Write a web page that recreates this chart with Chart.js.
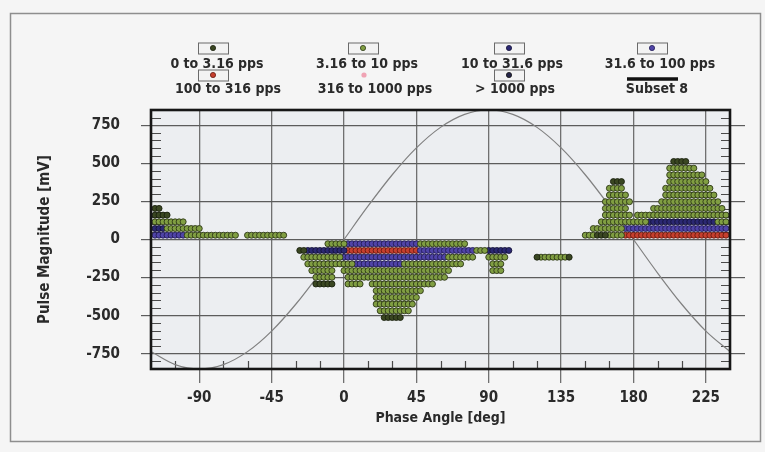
<!DOCTYPE html>
<html lang="en">
<head>
<meta charset="UTF-8">
<title>Pulse Magnitude vs Phase Angle</title>
<script src="https://cdn.jsdelivr.net/npm/chart.js@4.4.1/dist/chart.umd.min.js"></script>
<style>
  html, body { margin: 0; padding: 0; background: #f5f5f5; }
  #wrap { width: 765px; height: 452px; }
</style>
</head>
<body>
<div id="wrap"><canvas id="prpd" width="765" height="452"></canvas></div>
<script>
// axis ticks
const xTicks = [-90, -45, 0, 45, 90, 135, 180, 225];
const yTicks = [-750, -500, -250, 0, 250, 500, 750];
const xMinor = [-105, -75, -60, -30, -15, 15, 30, 60, 75, 105, 120, 150, 165, 195, 210];
const yMinor = [-800, -700, -650, -600, -550, -450, -400, -350, -300, -200, -150, -100, -50,
                50, 100, 150, 200, 300, 350, 400, 450, 550, 600, 650, 700, 800];

const seriesNames = ['0 to 3.16 pps', '3.16 to 10 pps', '10 to 31.6 pps', '31.6 to 100 pps',
                     '100 to 316 pps', '316 to 1000 pps', '> 1000 pps', 'Subset 8'];

// pulse counts, one row per magnitude bin: [mV, [phase deg, ...]]
const rate0 = [
  [204, [-117.5, -115]],
  [160, [-117.5, -115, -112.5, -110]],
  [-72, [-27.5, -25]],
  [-116, [120, 140]],
  [-292, [-17.5, -15, -12.5, -10, -7.5]],
  [-512, [25, 27.5, 30, 32.5, 35]],
  [28, [157.5, 160, 162.5]],
  [380, [167.5, 170, 172.5]],
  [512, [205, 207.5, 210, 212.5]]
];

const rate1 = [
  [116, [-117.5, -115, -112.5, -110, -107.5, -105, -102.5, -100]],
  [72, [-110, -107.5, -105, -102.5, -100, -97.5, -95, -92.5, -90]],
  [28, [-97.5, -95, -92.5, -90, -87.5, -85, -82.5, -80, -77.5, -75, -72.5, -70, -67.5,
        -60, -57.5, -55, -52.5, -50, -47.5, -45, -42.5, -40, -37.5,
        150, 152.5, 155, 165, 167.5, 170, 172.5]],
  [-28, [-10, -7.5, -5, -2.5, 0, 47.5, 50, 52.5, 55, 57.5, 60, 62.5, 65, 67.5, 70, 72.5, 75]],
  [-72, [82.5, 85, 87.5]],
  [-116, [-25, -22.5, -20, -17.5, -15, -12.5, -10, -7.5, -5, -2.5,
          65, 67.5, 70, 72.5, 75, 77.5, 80, 90, 92.5, 95, 97.5, 100,
          122.5, 125, 127.5, 130, 132.5, 135, 137.5]],
  [-160, [-22.5, -20, -17.5, -15, -12.5, -10, -7.5, -5, -2.5, 0, 2.5, 5,
          37.5, 40, 42.5, 45, 47.5, 50, 52.5, 55, 57.5, 60, 62.5, 65, 67.5, 70, 72.5,
          92.5, 95, 97.5]],
  [-204, [-20, -17.5, -15, -12.5, -10, -7.5,
          0, 2.5, 5, 7.5, 10, 12.5, 15, 17.5, 20, 22.5, 25, 27.5, 30, 32.5, 35, 37.5, 40,
          42.5, 45, 47.5, 50, 52.5, 55, 57.5, 60, 62.5, 65, 92.5, 95, 97.5]],
  [-248, [-17.5, -15, -12.5, -10, -7.5,
          2.5, 5, 7.5, 10, 12.5, 15, 17.5, 20, 22.5, 25, 27.5, 30, 32.5, 35, 37.5, 40,
          42.5, 45, 47.5, 50, 52.5, 55, 57.5, 60, 62.5]],
  [-292, [2.5, 5, 7.5, 10, 17.5, 20, 22.5, 25, 27.5, 30, 32.5, 35, 37.5, 40, 42.5, 45,
          47.5, 50, 52.5, 55]],
  [-336, [20, 22.5, 25, 27.5, 30, 32.5, 35, 37.5, 40, 42.5, 45, 47.5]],
  [-380, [20, 22.5, 25, 27.5, 30, 32.5, 35, 37.5, 40, 42.5, 45]],
  [-424, [20, 22.5, 25, 27.5, 30, 32.5, 35, 37.5, 40, 42.5]],
  [-468, [22.5, 25, 27.5, 30, 32.5, 35, 37.5, 40]],
  [72, [155, 157.5, 160, 162.5, 165, 167.5, 170, 172.5]],
  [116, [160, 162.5, 165, 167.5, 170, 172.5, 175, 177.5, 180, 182.5, 185, 187.5,
         232.5, 235, 237.5]],
  [160, [162.5, 165, 167.5, 170, 172.5, 175, 177.5,
         182.5, 185, 187.5, 190, 192.5, 195, 197.5, 200, 202.5, 205, 207.5, 210, 212.5,
         215, 217.5, 220, 222.5, 225, 227.5, 230, 232.5, 235, 237.5]],
  [204, [162.5, 165, 167.5, 170, 172.5, 175,
         192.5, 195, 197.5, 200, 202.5, 205, 207.5, 210, 212.5, 215, 217.5, 220, 222.5,
         225, 227.5, 230, 232.5, 235]],
  [248, [162.5, 165, 167.5, 170, 172.5, 175, 177.5,
         197.5, 200, 202.5, 205, 207.5, 210, 212.5, 215, 217.5, 220, 222.5, 225, 227.5,
         230, 232.5]],
  [292, [165, 167.5, 170, 172.5, 175, 200, 202.5, 205, 207.5, 210, 212.5, 215, 217.5,
         220, 222.5, 225, 227.5, 230]],
  [336, [165, 167.5, 170, 172.5, 200, 202.5, 205, 207.5, 210, 212.5, 215, 217.5, 220,
         222.5, 225, 227.5]],
  [380, [202.5, 205, 207.5, 210, 212.5, 215, 217.5, 220, 222.5, 225]],
  [424, [202.5, 205, 207.5, 210, 212.5, 215, 217.5, 220, 222.5]],
  [468, [202.5, 205, 207.5, 210, 212.5, 215, 217.5]]
];

const rate2 = [
  [72, [-117.5, -115, -112.5]],
  [-72, [-22.5, -20, -17.5, -15, -12.5, -10, -7.5, -5, -2.5, 0,
         90, 92.5, 95, 97.5, 100, 102.5]],
  [116, [190, 192.5, 195, 197.5, 200, 202.5, 205, 207.5, 210, 212.5, 215, 217.5, 220,
         222.5, 225, 227.5, 230]]
];

const rate3 = [
  [28, [-117.5, -115, -112.5, -110, -107.5, -105, -102.5, -100]],
  [-28, [2.5, 5, 7.5, 10, 12.5, 15, 17.5, 20, 22.5, 25, 27.5, 30, 32.5, 35, 37.5, 40,
         42.5, 45]],
  [-72, [47.5, 50, 52.5, 55, 57.5, 60, 62.5, 65, 67.5, 70, 72.5, 75, 77.5, 80]],
  [-116, [0, 2.5, 5, 7.5, 10, 12.5, 15, 17.5, 20, 22.5, 25, 27.5, 30, 32.5, 35, 37.5, 40,
          42.5, 45, 47.5, 50, 52.5, 55, 57.5, 60, 62.5]],
  [-160, [7.5, 10, 12.5, 15, 17.5, 20, 22.5, 25, 27.5, 30, 32.5, 35]],
  [72, [175, 177.5, 180, 182.5, 185, 187.5, 190, 192.5, 195, 197.5, 200, 202.5, 205,
        207.5, 210, 212.5, 215, 217.5, 220, 222.5, 225, 227.5, 230, 232.5, 235, 237.5]]
];

const rate4 = [
  [-72, [2.5, 5, 7.5, 10, 12.5, 15, 17.5, 20, 22.5, 25, 27.5, 30, 32.5, 35, 37.5, 40,
         42.5, 45]],
  [28, [175, 177.5, 180, 182.5, 185, 187.5, 190, 192.5, 195, 197.5, 200, 202.5, 205,
        207.5, 210, 212.5, 215, 217.5, 220, 222.5, 225, 227.5, 230, 232.5, 235, 237.5]]
];

const rate5 = [];
const rate6 = [];

// Subset 8: phase reference curve
const refPhase = [-120, -105, -90, -75, -60, -45, -30, -15, 0, 15, 30, 45, 60, 75, 90,
                  105, 120, 135, 150, 165, 180, 195, 210, 225, 240];
const refMag = [-736, -821, -850, -821, -736, -601, -425, -220, 0, 220, 425, 601, 736, 821, 850,
                821, 736, 601, 425, 220, 0, -220, -425, -601, -736];

const fillCols = ['#3a4722', '#809e42', '#2b2872', '#5044a8', '#c63f2e', '#f0a3b4', '#26264a'];
const edgeCols = ['#1a200e', '#2c3716', '#141238', '#221c55', '#641a10', '#b06070', '#111'];

const FONT = '"Liberation Sans Narrow", "DejaVu Sans Condensed", "Liberation Sans", sans-serif';

function rowsToPoints(rows) {
  const pts = [];
  rows.forEach(([mag, phases]) => phases.forEach(p => pts.push({ x: p, y: mag })));
  return pts;
}

const rates = [rate0, rate1, rate2, rate3, rate4, rate5, rate6];
const datasets = rates.map((rows, i) => ({
  label: seriesNames[i],
  data: rowsToPoints(rows),
  backgroundColor: fillCols[i],
  borderColor: edgeCols[i],
  pointRadius: 3,
  pointBorderWidth: 0.9,
  clip: 0,
  order: 1
}));
datasets.push({
  type: 'line',
  label: seriesNames[7],
  data: refPhase.map((p, i) => ({ x: p, y: refMag[i] })),
  borderColor: '#808080',
  borderWidth: 1.2,
  pointRadius: 0,
  cubicInterpolationMode: 'monotone',
  clip: 0,
  order: 10
});

// page background, outer frame and plot background
const backdrop = {
  id: 'backdrop',
  beforeDraw(chart) {
    const { ctx, chartArea: a } = chart;
    ctx.save();
    ctx.fillStyle = '#f5f5f5';
    ctx.fillRect(0, 0, chart.width, chart.height);
    ctx.strokeStyle = '#8e8e8e';
    ctx.lineWidth = 1.5;
    ctx.strokeRect(10.5, 13.5, 750, 428);
    ctx.fillStyle = '#eceef1';
    ctx.fillRect(a.left, a.top, a.right - a.left, a.bottom - a.top);
    ctx.restore();
  },
  beforeDatasetsDraw(chart) {
    const { ctx, chartArea: a, scales } = chart;
    ctx.save();
    ctx.strokeStyle = '#4a4a4a';
    ctx.lineWidth = 1.2;
    ctx.beginPath();
    xMinor.forEach(v => {
      const px = Math.round(scales.x.getPixelForValue(v)) + 0.5;
      ctx.moveTo(px, a.bottom);
      ctx.lineTo(px, a.bottom - 8);
    });
    yMinor.forEach(v => {
      const py = Math.round(scales.y.getPixelForValue(v)) + 0.5;
      ctx.moveTo(a.left, py);
      ctx.lineTo(a.left + 10, py);
      ctx.moveTo(a.right - 9, py);
      ctx.lineTo(a.right, py);
    });
    ctx.stroke();
    ctx.restore();
  },
  afterDatasetsDraw(chart) {
    const { ctx, chartArea: a } = chart;
    ctx.save();
    ctx.strokeStyle = '#161616';
    ctx.lineWidth = 2.6;
    ctx.strokeRect(a.left, a.top, a.right - a.left, a.bottom - a.top);
    ctx.restore();
  }
};

// legend: marker box above each label, four columns, two rows
const boxLegend = {
  id: 'boxLegend',
  afterDraw(chart) {
    const ctx = chart.ctx;
    const boxX = [[213, 363, 509, 652], [213, 364, 509, 652]];
    const textX = [[217, 367, 512, 660], [228, 375, 515, 657]];
    const boxY = [48, 75];
    const textY = [64, 89];
    ctx.save();
    chart.data.datasets.forEach((ds, i) => {
      const r = i < 4 ? 0 : 1;
      const c = i % 4;
      const bx = boxX[r][c];
      const by = boxY[r];
      if (ds.type === 'line') {
        ctx.strokeStyle = '#111';
        ctx.lineWidth = 3.5;
        ctx.beginPath();
        ctx.moveTo(bx - 25, by + 4);
        ctx.lineTo(bx + 26, by + 4);
        ctx.stroke();
      } else {
        if (i !== 5) {
          ctx.fillStyle = '#f3f3f3';
          ctx.fillRect(bx - 15, by - 5.5, 30, 11);
          ctx.strokeStyle = '#6a6a6a';
          ctx.lineWidth = 1;
          ctx.strokeRect(bx - 15 + 0.5, by - 5.5 + 0.5, 30, 11);
        }
        ctx.fillStyle = ds.backgroundColor;
        ctx.strokeStyle = ds.borderColor;
        ctx.lineWidth = 0.8;
        ctx.beginPath();
        ctx.arc(bx, by, 2.6, 0, Math.PI * 2);
        ctx.fill();
        if (i !== 5) ctx.stroke();
      }
      ctx.fillStyle = '#2a2a2a';
      ctx.font = 'bold 14px ' + FONT;
      ctx.textAlign = 'center';
      ctx.textBaseline = 'middle';
      ctx.fillText(ds.label, textX[r][c], textY[r]);
    });
    ctx.restore();
  }
};

const tickFont = { family: FONT, size: 15, weight: 'bold' };

new Chart(document.getElementById('prpd'), {
  type: 'scatter',
  data: { datasets: datasets },
  plugins: [backdrop, boxLegend],
  options: {
    responsive: false,
    animation: false,
    events: [],
    layout: { padding: { top: 110, right: 20, bottom: 0, left: 0 } },
    plugins: { legend: { display: false }, tooltip: { enabled: false } },
    scales: {
      x: {
        type: 'linear',
        min: -120,
        max: 240,
        afterBuildTicks: s => { s.ticks = xTicks.map(v => ({ value: v })); },
        afterFit: s => { s.height = 83; },
        border: { display: false },
        grid: { color: '#707070', lineWidth: 1.3, tickLength: 14 },
        ticks: { color: '#2a2a2a', font: tickFont, padding: 6, autoSkip: false, maxRotation: 0 },
        title: { display: true, text: 'Phase Angle [deg]', color: '#2a2a2a',
                 font: { family: FONT, size: 14, weight: 'bold' }, padding: { top: 0, bottom: 25 } }
      },
      y: {
        type: 'linear',
        min: -850,
        max: 850,
        afterBuildTicks: s => { s.ticks = yTicks.map(v => ({ value: v })); },
        afterFit: s => { s.width = 151; },
        border: { display: false },
        grid: { color: '#5c5c5c', lineWidth: 1.2, tickLength: 10 },
        ticks: { color: '#2a2a2a', font: tickFont, padding: 21 },
        title: { display: true, text: 'Pulse Magnitude [mV]', color: '#2a2a2a',
                 font: { family: FONT, size: 15, weight: 'bold' }, padding: { top: 36, bottom: 0 } }
      },
      y2: {
        type: 'linear',
        position: 'right',
        min: -850,
        max: 850,
        afterBuildTicks: s => { s.ticks = yTicks.map(v => ({ value: v })); },
        afterFit: s => { s.width = 15; },
        border: { display: false },
        grid: { color: '#5c5c5c', lineWidth: 1.2, tickLength: 15, drawOnChartArea: false },
        ticks: { display: false }
      }
    }
  }
});
</script>
</body>
</html>
